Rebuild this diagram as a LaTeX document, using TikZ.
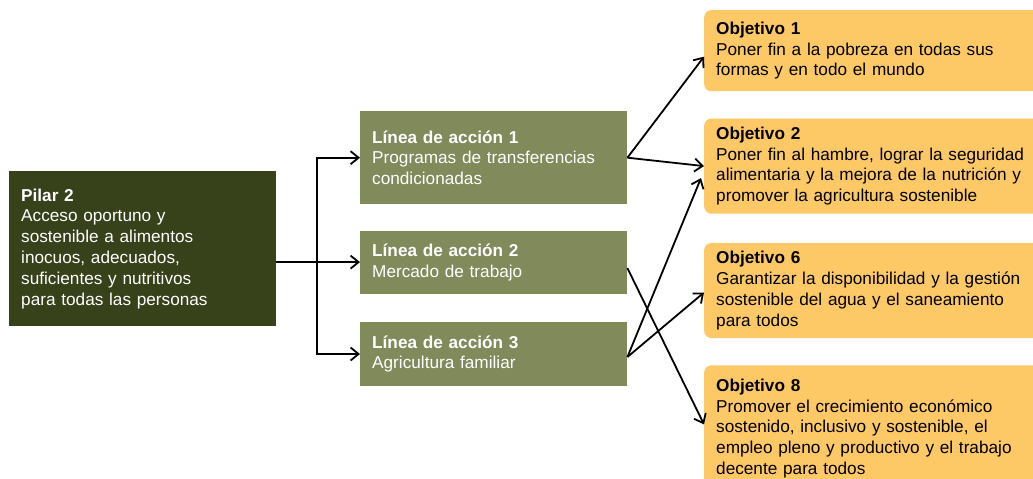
\documentclass[tikz,border=0pt]{standalone}
\usepackage{fontspec}
\setmainfont{Liberation Sans}
\usetikzlibrary{arrows.meta,positioning}
\definecolor{pilarcol}{RGB}{55,65,26}
\definecolor{lineacol}{RGB}{128,138,90}
\definecolor{objcol}{RGB}{253,200,102}

\begin{document}
\begin{tikzpicture}[x=1pt, y=-1pt, >={Straight Barb[length=8pt,width=13pt]},
  box/.style={rectangle, align=left, inner xsep=12pt, inner ysep=0pt,
    font=\fontsize{17.2}{20.8}\selectfont},
  pilarbox/.style={box, fill=pilarcol, text=white, minimum width=267pt, text width=243pt},
  lineabox/.style={box, fill=lineacol, text=white, minimum width=267pt, text width=243pt},
  objbox/.style={box, fill=objcol, text=black, rounded corners=7pt, minimum width=345pt, text width=321pt},
  link/.style={->, line width=1.8pt}]
  \useasboundingbox (0,0) rectangle (1033,479);
  \clip (0,0) rectangle (1033,479);
  % pilar
  \node[pilarbox, minimum height=155pt, anchor=north west] (pilar) at (9,171)
    {\textbf{Pilar 2}\\Acceso oportuno y\\sostenible a alimentos\\inocuos, adecuados,\\suficientes y nutritivos\\para todas las personas};
  % lineas de accion
  \node[lineabox, minimum height=93pt, anchor=north west] (lin1) at (360,111)
    {\textbf{Línea de acción 1}\\Programas de transferencias\\condicionadas};
  \node[lineabox, minimum height=63pt, below=26pt of lin1] (lin2)
    {\textbf{Línea de acción 2}\\Mercado de trabajo};
  \node[lineabox, minimum height=64pt, below=28pt of lin2] (lin3)
    {\textbf{Línea de acción 3}\\Agricultura familiar};
  % objetivos
  \node[objbox, minimum height=81pt, anchor=north west] (obj1) at (704,10)
    {\textbf{Objetivo 1}\\Poner fin a la pobreza en todas sus\\formas y en todo el mundo};
  \node[objbox, minimum height=95pt, below=27pt of obj1] (obj2)
    {\textbf{Objetivo 2}\\Poner fin al hambre, lograr la seguridad\\alimentaria y la mejora de la nutrición y\\promover la agricultura sostenible};
  \node[objbox, minimum height=95pt, below=29pt of obj2] (obj6)
    {\textbf{Objetivo 6}\\Garantizar la disponibilidad y la gestión\\sostenible del agua y el saneamiento\\para todos};
  \node[objbox, minimum height=126pt, below=27pt of obj6] (obj8)
    {\textbf{Objetivo 8}\\Promover el crecimiento económico\\sostenido, inclusivo y sostenible, el\\empleo pleno y productivo y el trabajo\\decente para todos};
  % pilar -> lineas
  \coordinate (fork) at (317,262);
  \draw[link] (pilar.east |- lin2.west) -- (lin2.west);
  \draw[link] (fork |- lin3.west) -- (fork |- lin1.west) -- (lin1.west);
  \draw[link] (fork |- lin1.west) -- (fork |- lin3.west) -- (lin3.west);
  % lineas -> objetivos
  \draw[link] (lin1.east) -- ([yshift=-6pt]obj1.west);
  \draw[link] (lin1.east) -- (obj2.west);
  \draw[link] ([yshift=-6pt]lin2.east) -- ([yshift=4pt]obj8.west);
  \draw[link] ([yshift=-3pt]lin3.east) -- ([xshift=-3pt,yshift=-12pt]obj2.west);
  \draw[link] ([yshift=-3pt]lin3.east) -- ([yshift=-2pt]obj6.west);
\end{tikzpicture}
\end{document}
